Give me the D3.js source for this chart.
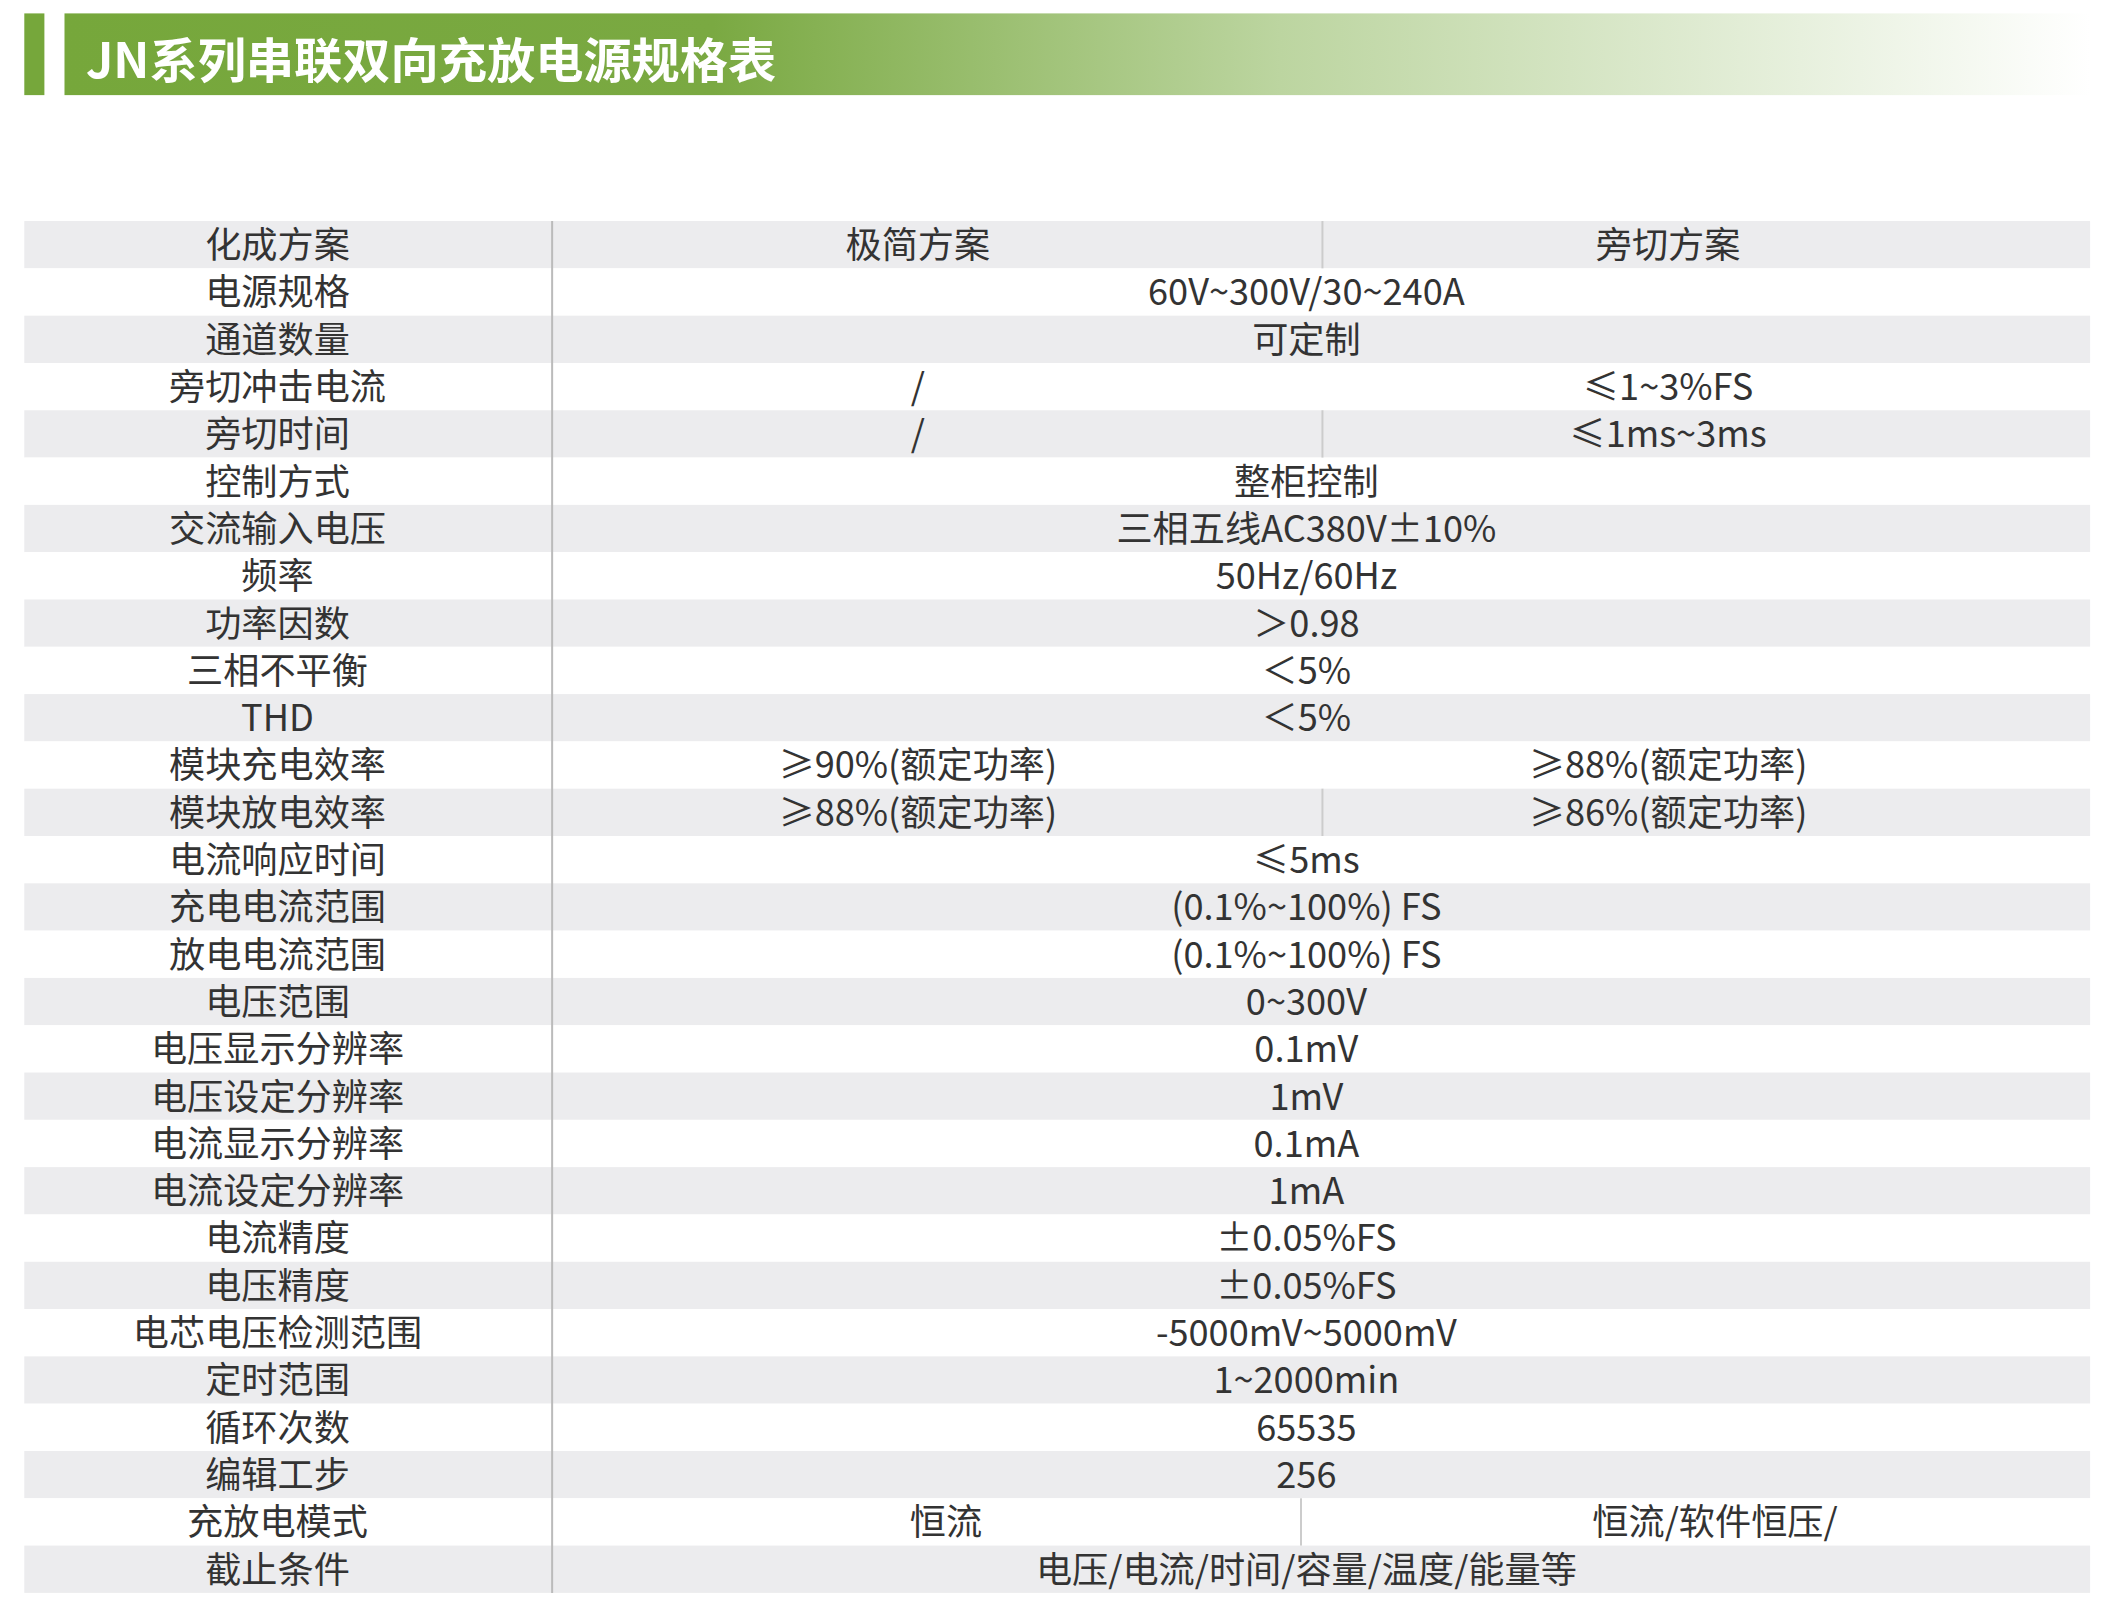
<!DOCTYPE html>
<html><head><meta charset="utf-8">
<script src="https://cdn.jsdelivr.net/npm/d3@7"></script>
<style>body{margin:0;background:#fff}</style></head>
<body><script>
const title = "JN系列串联双向充放电源规格表";
const labels = ["化成方案","电源规格","通道数量","旁切冲击电流","旁切时间","控制方式","交流输入电压","频率","功率因数","三相不平衡","THD","模块充电效率","模块放电效率","电流响应时间","充电电流范围","放电电流范围","电压范围","电压显示分辨率","电压设定分辨率","电流显示分辨率","电流设定分辨率","电流精度","电压精度","电芯电压检测范围","定时范围","循环次数","编辑工步","充放电模式","截止条件"];
const leftVals = ["极简方案","60V~300V/30~240A","可定制","/","/","整柜控制","三相五线AC380V±10%","50Hz/60Hz","＞0.98","＜5%","＜5%","≥90%(额定功率)","≥88%(额定功率)","≤5ms","(0.1%~100%) FS","(0.1%~100%) FS","0~300V","0.1mV","1mV","0.1mA","1mA","±0.05%FS","±0.05%FS","-5000mV~5000mV","1~2000min","65535","256","恒流","电压/电流/时间/容量/温度/能量等"];
const rightVals = ["旁切方案",null,null,"≤1~3%FS","≤1ms~3ms",null,null,null,null,null,null,"≥88%(额定功率)","≥86%(额定功率)",null,null,null,null,null,null,null,null,null,null,null,null,null,null,"恒流/软件恒压/",null];

const W=1568,H=1207;
const svg=d3.select("body").append("svg").attr("width",2101).attr("height",1617).attr("viewBox",`0 0 ${W} ${H}`);
const g=svg.append("defs").append("linearGradient").attr("id","gr");
g.append("stop").attr("offset","0").attr("stop-color","#76a73b");
g.append("stop").attr("offset","0.32").attr("stop-color","#7aa942");
g.append("stop").attr("offset","0.6").attr("stop-color","#bcd5a0");
g.append("stop").attr("offset","1").attr("stop-color","#ffffff");
svg.append("rect").attr("x",18).attr("y",10).attr("width",15).attr("height",61).attr("fill","#76a73b");
svg.append("rect").attr("x",48).attr("y",10).attr("width",1512).attr("height",61).attr("fill","url(#gr)");
svg.append("text").attr("x",64).attr("y",58).attr("fill","#fff").attr("font-family","Noto Sans CJK SC").attr("font-weight","bold").attr("font-size",36).text(title);

const y=d3.scaleBand().domain(d3.range(labels.length)).range([165,1189]);
const x0=18,x1=1560;
const rows=svg.selectAll("g.r").data(labels).join("g");
rows.append("rect").attr("x",x0).attr("y",(d,i)=>y(i)).attr("width",x1-x0).attr("height",y.bandwidth()).attr("fill",(d,i)=>i%2==0?"#ececee":"#fff");
svg.append("line").attr("x1",412).attr("x2",412).attr("y1",165).attr("y2",1189).attr("stroke","#bbb").attr("stroke-width",1.5);
const txt=(xp,yi,s)=>svg.append("text").attr("x",xp).attr("y",y(yi)+y.bandwidth()/2+10).attr("text-anchor","middle").attr("font-family","Noto Sans CJK SC").attr("font-size",27).attr("fill","#333").text(s);
labels.forEach((d,i)=>{
  txt(207,i,d);
  if(rightVals[i]!==null){
    const dx= i==27?971:987;
    if(i%2==0||i==27) svg.append("line").attr("x1",dx).attr("x2",dx).attr("y1",y(i)).attr("y2",y(i)+y.bandwidth()).attr("stroke","#ccc").attr("stroke-width",1.5);
    txt(i==27?706:685,i,leftVals[i]);
    txt(i==27?1280:1245,i,rightVals[i]);
  } else txt(975,i,leftVals[i]);
});
</script></body></html>
